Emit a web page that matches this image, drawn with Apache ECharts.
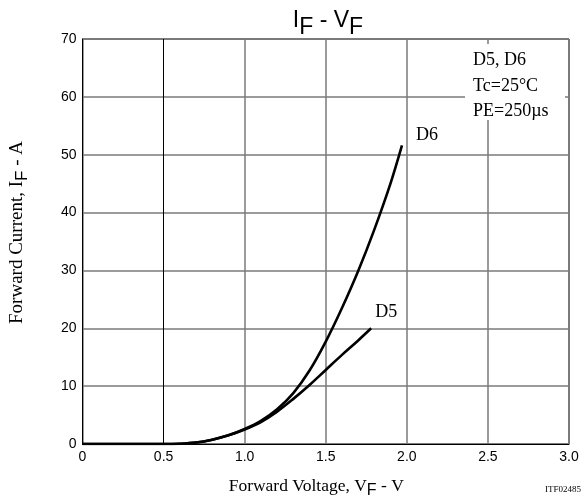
<!DOCTYPE html>
<html>
<head>
<meta charset="utf-8">
<script src="https://cdn.jsdelivr.net/npm/echarts@6/dist/echarts.min.js"></script>
<style>
  html, body { margin: 0; padding: 0; background: #fff; }
  #chart { width: 587px; height: 504px; }
</style>
</head>
<body>
<div id="chart"></div>
<script>
// forward voltage (V) / forward current (A)
const d6Volts = [0, 0.5, 0.6, 0.7, 0.8, 0.9, 1.0, 1.1, 1.2, 1.3, 1.4, 1.5, 1.6, 1.7, 1.8, 1.9, 1.97];
const d6Amps = [0, 0, 0.05, 0.25, 0.75, 1.5, 2.6, 4.0, 6.0, 8.8, 12.7, 17.7, 23.5, 29.9, 37.1, 45.1, 51.6];
const d5Volts = [0, 0.5, 0.6, 0.7, 0.8, 0.9, 1.0, 1.1, 1.2, 1.3, 1.4, 1.5, 1.6, 1.7, 1.78];
const d5Amps = [0, 0, 0.05, 0.25, 0.75, 1.5, 2.5, 3.8, 5.6, 7.8, 10.2, 12.8, 15.4, 17.9, 20];
const xTicks = [0, 0.5, 1.0, 1.5, 2.0, 2.5, 3.0];
const yTicks = [0, 10, 20, 30, 40, 50, 60, 70];
const noteLines = ['D5, D6', 'Tc=25°C', 'PE=250µs'];

const serif = '"Liberation Serif", "DejaVu Serif", serif';
const sans = '"Liberation Sans", Arial, sans-serif';

const pairs = (xs, ys) => xs.map((x, i) => [x, ys[i]]);

const chart = echarts.init(document.getElementById('chart'));

const curve = (name, data, label, offset) => ({
  name: name,
  type: 'line',
  smooth: 0.35,
  symbol: 'none',
  data: data,
  lineStyle: { color: '#000', width: 2.6 },
  endLabel: {
    show: true,
    formatter: label,
    offset: offset,
    fontFamily: serif,
    fontSize: 18,
    color: '#000'
  },
  z: 5
});

const d5 = curve('D5', pairs(d5Volts, d5Amps), 'D5', [-4, -16]);
// the 0.5 V grid line is drawn thin and black in the original
d5.markLine = {
  silent: true,
  symbol: 'none',
  label: { show: false },
  lineStyle: { color: '#000', width: 1, type: 'solid' },
  data: [{ xAxis: xTicks[1] }],
  z: 1
};

const option = {
  animation: false,
  title: {
    text: 'I{sub|F} - V{sub|F}',
    left: 323,
    textAlign: 'center',
    top: -2,
    textStyle: {
      fontFamily: sans,
      fontSize: 23,
      fontWeight: 'normal',
      color: '#000',
      rich: {
        sub: { fontFamily: sans, fontSize: 23, padding: [13, 0, 0, 0], color: '#000' }
      }
    }
  },
  grid: {
    left: 81,
    right: 18,
    top: 39,
    bottom: 57,
    show: true,
    borderColor: '#000',
    borderWidth: 1
  },
  xAxis: {
    type: 'value',
    min: xTicks[0],
    max: xTicks[xTicks.length - 1],
    interval: 0.5,
    name: 'Forward Voltage, V{sub|F} - V',
    nameLocation: 'middle',
    nameGap: 30,
    nameTextStyle: {
      fontFamily: serif,
      fontSize: 17.5,
      color: '#000',
      padding: [0, 19, 0, 0],
      rich: {
        sub: { fontFamily: sans, fontSize: 16, padding: [9, 0, 0, 0], color: '#000' }
      }
    },
    axisLine: { show: true, lineStyle: { color: '#000', width: 1 } },
    axisTick: { show: false },
    axisLabel: {
      margin: 6,
      fontFamily: sans,
      fontSize: 14,
      color: '#000',
      formatter: v => (v === 0 ? '0' : v.toFixed(1))
    },
    splitLine: {
      show: true,
      lineStyle: {
        color: ['#7a7a7a', 'rgba(0,0,0,0)', '#7a7a7a', '#7a7a7a', '#7a7a7a', '#7a7a7a', '#7a7a7a'],
        width: 1.5
      }
    }
  },
  yAxis: {
    type: 'value',
    min: yTicks[0],
    max: yTicks[yTicks.length - 1],
    interval: 10,
    name: 'Forward Current, I{sub|F} - A',
    nameLocation: 'middle',
    nameGap: 52,
    nameTextStyle: {
      fontFamily: serif,
      fontSize: 19,
      color: '#000',
      padding: [0, 0, 0, 18],
      rich: {
        sub: { fontFamily: sans, fontSize: 17, padding: [9, 0, 0, 0], color: '#000' }
      }
    },
    axisLine: { show: true, lineStyle: { color: '#000', width: 1 } },
    axisTick: { show: false },
    axisLabel: {
      margin: 6,
      fontFamily: sans,
      fontSize: 14,
      color: '#000'
    },
    splitLine: { show: true, lineStyle: { color: '#7a7a7a', width: 1.5 } }
  },
  series: [
    curve('D6', pairs(d6Volts, d6Amps), 'D6', [6, -10]),
    d5
  ],
  graphic: [
    {
      type: 'rect',
      left: 465,
      top: 44,
      shape: { width: 100, height: 76 },
      style: { fill: '#fff' },
      z: 10
    },
    {
      type: 'text',
      left: 473,
      top: 48,
      style: {
        text: noteLines.join('\n'),
        fontFamily: serif,
        fontSize: 18,
        lineHeight: 25.5,
        fill: '#000'
      },
      z: 11
    },
    {
      type: 'text',
      right: 6,
      top: 485,
      style: { text: 'ITF02485', fontFamily: serif, fontSize: 9, fill: '#000' }
    }
  ]
};

chart.setOption(option);
window.addEventListener('resize', () => {
  chart.resize();
});
</script>
</body>
</html>
